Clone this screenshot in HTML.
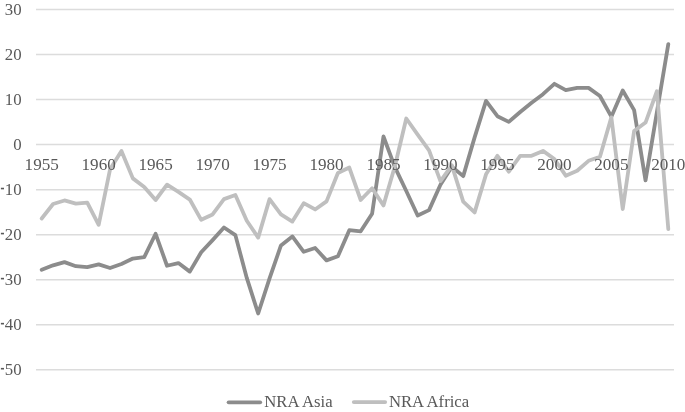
<!DOCTYPE html>
<html><head><meta charset="utf-8"><title>NRA chart</title>
<style>
html,body{margin:0;padding:0;background:#fff;}
body{width:685px;height:412px;overflow:hidden;}
svg{display:block;will-change:transform;}
text{font-family:"Liberation Serif",serif;font-size:16px;fill:#595959;}
</style></head>
<body>
<svg width="685" height="412" viewBox="0 0 685 412">
<rect width="685" height="412" fill="#fff"/>
<g stroke="#dcdcdc" stroke-width="1.5" fill="none">
<line x1="36.0" y1="9.48" x2="674.0" y2="9.48"/>
<line x1="36.0" y1="54.52" x2="674.0" y2="54.52"/>
<line x1="36.0" y1="99.56" x2="674.0" y2="99.56"/>
<line x1="36.0" y1="144.60" x2="674.0" y2="144.60"/>
<line x1="36.0" y1="189.64" x2="674.0" y2="189.64"/>
<line x1="36.0" y1="234.68" x2="674.0" y2="234.68"/>
<line x1="36.0" y1="279.72" x2="674.0" y2="279.72"/>
<line x1="36.0" y1="324.76" x2="674.0" y2="324.76"/>
<line x1="36.0" y1="369.80" x2="674.0" y2="369.80"/>
</g>
<g fill="none" stroke-width="3.8" stroke-linejoin="round" stroke-linecap="round">
<path stroke="#8c8c8c" d="M41.70,269.81 L53.09,265.31 L64.48,262.15 L75.88,266.21 L87.27,267.11 L98.66,264.41 L110.05,268.01 L121.45,263.96 L132.84,258.55 L144.23,257.20 L155.62,233.78 L167.02,265.76 L178.41,263.06 L189.80,271.61 L201.20,252.25 L212.59,240.08 L223.98,227.47 L235.38,235.13 L246.77,277.92 L258.16,313.50 L269.55,278.37 L280.95,245.49 L292.34,236.48 L303.73,251.80 L315.12,247.97 L326.52,260.35 L337.91,256.30 L349.30,230.18 L360.70,231.30 L372.09,213.74 L383.48,136.49 L394.88,167.12 L406.27,190.99 L417.66,215.54 L429.05,210.13 L440.45,184.69 L451.84,166.67 L463.23,176.13 L474.62,137.39 L486.02,100.91 L497.41,116.22 L508.80,121.85 L520.20,111.95 L531.59,102.71 L542.98,94.16 L554.38,83.80 L565.77,90.10 L577.16,87.85 L588.55,87.85 L599.95,95.96 L611.34,116.68 L622.73,90.55 L634.12,110.14 L645.52,180.41 L656.91,112.17 L668.30,44.16"/>
<path stroke="#bfbfbf" d="M41.70,218.47 L53.09,204.05 L64.48,200.45 L75.88,203.60 L87.27,202.70 L98.66,224.77 L110.05,169.37 L121.45,150.91 L132.84,178.38 L144.23,186.94 L155.62,200.00 L167.02,184.69 L178.41,191.89 L189.80,199.55 L201.20,219.82 L212.59,214.41 L223.98,199.10 L235.38,195.04 L246.77,220.72 L258.16,237.61 L269.55,199.10 L280.95,214.41 L292.34,221.62 L303.73,203.15 L315.12,209.46 L326.52,201.35 L337.91,172.98 L349.30,167.57 L360.70,200.00 L372.09,188.29 L383.48,205.40 L394.88,166.22 L406.27,118.48 L417.66,134.69 L429.05,150.46 L440.45,181.08 L451.84,165.32 L463.23,201.58 L474.62,212.39 L486.02,174.33 L497.41,155.86 L508.80,171.62 L520.20,155.86 L531.59,155.86 L542.98,150.91 L554.38,159.01 L565.77,175.68 L577.16,170.72 L588.55,160.81 L599.95,156.76 L611.34,117.35 L622.73,209.01 L634.12,131.09 L645.52,122.53 L656.91,91.23 L668.30,229.05"/>
</g>
<g stroke-width="3.8" stroke-linecap="round">
<line x1="228.6" y1="402.3" x2="260.2" y2="402.3" stroke="#8c8c8c"/>
<line x1="353.8" y1="402.1" x2="385.2" y2="402.1" stroke="#bfbfbf"/>
</g>
<g text-anchor="end">
<text transform="translate(21.6,14.58) scale(1.05,1)">30</text>
<text transform="translate(21.6,59.62) scale(1.05,1)">20</text>
<text transform="translate(21.6,104.66) scale(1.05,1)">10</text>
<text transform="translate(21.6,149.70) scale(1.05,1)">0</text>
<text transform="translate(21.6,194.74) scale(1.05,1)">10</text>
<text transform="translate(21.6,239.78) scale(1.05,1)">20</text>
<text transform="translate(21.6,284.82) scale(1.05,1)">30</text>
<text transform="translate(21.6,329.86) scale(1.05,1)">40</text>
<text transform="translate(21.6,374.90) scale(1.05,1)">50</text>
</g>
<g fill="#595959">
<rect x="0.9" y="187.74" width="3.1" height="1.6"/>
<rect x="0.9" y="232.78" width="3.1" height="1.6"/>
<rect x="0.9" y="277.82" width="3.1" height="1.6"/>
<rect x="0.9" y="322.86" width="3.1" height="1.6"/>
<rect x="0.9" y="367.90" width="3.1" height="1.6"/>
</g>
<g text-anchor="middle">
<text transform="translate(41.70,169.6) scale(1.07,1)">1955</text>
<text transform="translate(98.66,169.6) scale(1.07,1)">1960</text>
<text transform="translate(155.62,169.6) scale(1.07,1)">1965</text>
<text transform="translate(212.59,169.6) scale(1.07,1)">1970</text>
<text transform="translate(269.55,169.6) scale(1.07,1)">1975</text>
<text transform="translate(326.52,169.6) scale(1.07,1)">1980</text>
<text transform="translate(383.48,169.6) scale(1.07,1)">1985</text>
<text transform="translate(440.45,169.6) scale(1.07,1)">1990</text>
<text transform="translate(497.41,169.6) scale(1.07,1)">1995</text>
<text transform="translate(554.38,169.6) scale(1.07,1)">2000</text>
<text transform="translate(611.34,169.6) scale(1.07,1)">2005</text>
<text transform="translate(668.30,169.6) scale(1.07,1)">2010</text>
</g>
<text transform="translate(264.3,407.4) scale(1.045,1)">NRA Asia</text>
<text transform="translate(388.9,407.4) scale(1.045,1)">NRA Africa</text>
</svg>
</body></html>
